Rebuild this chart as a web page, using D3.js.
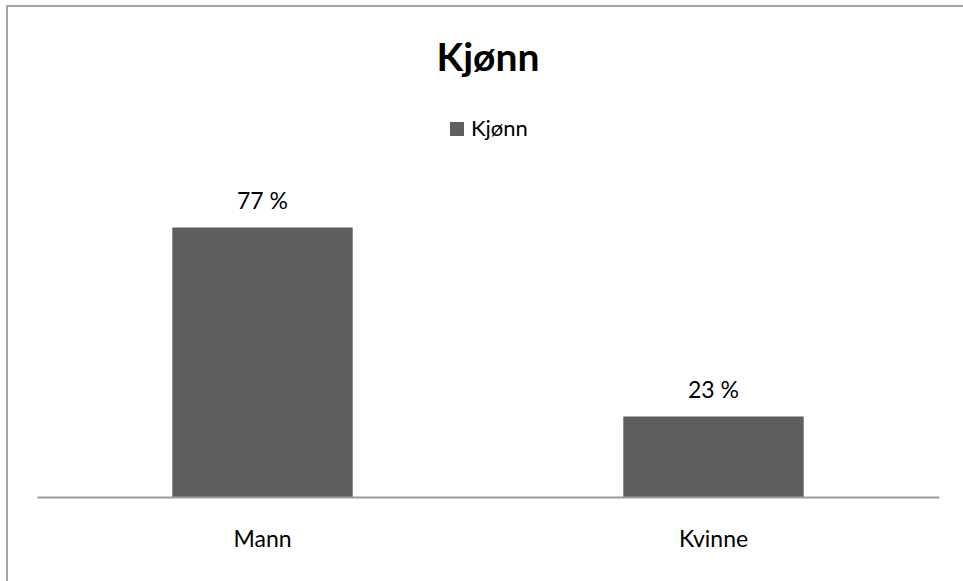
<!DOCTYPE html>
<html>
<head>
<meta charset="utf-8">
<script src="https://d3js.org/d3.v7.min.js"></script>
<style>
	body { margin: 0; background: #ffffff; }
	svg { display: block; }
</style>
</head>
<body>
<svg id="chart" width="963" height="581"></svg>
<script>
// Kjønn - share of respondents by gender

var categories = ["Mann", "Kvinne"];
var values = [77, 23];
var valueLabels = ["77 %", "23 %"];
var seriesName = "Kjønn";
var chartTitle = "Kjønn";

var barColor = "#5f5f5f";
var fontFamily = "Lato, 'Open Sans', sans-serif";

var svg = d3.select("#chart");
var width = +svg.attr("width");
var height = +svg.attr("height");

// plot area (axis line runs from left to right)
var plotLeft = 37;
var plotRight = 939;
var plotBottom = 497;
var plotTop = 147;

// outer frame of the chart, right and bottom edges fall outside the picture
svg.append("rect")
	.attr("x", 7)
	.attr("y", 6)
	.attr("width", width + 20)
	.attr("height", height + 20)
	.attr("fill", "none")
	.attr("stroke", "#a6a6a6")
	.attr("stroke-width", 2);

var x = d3.scaleBand()
	.domain(categories)
	.range([plotLeft, plotRight])
	.paddingInner(0.6)
	.paddingOuter(0.3);

var y = d3.scaleLinear()
	.domain([0, 100])
	.range([plotBottom, plotTop]);

// title
svg.append("text")
	.attr("x", 488)
	.attr("y", 71)
	.attr("text-anchor", "middle")
	.style("font-family", fontFamily)
	.style("font-weight", "bold")
	.style("font-size", "39px")
	.attr("fill", "#000")
	.text(chartTitle);

// legend
var legend = svg.append("g")
	.attr("transform", "translate(450, 122)");
legend.append("rect")
	.attr("width", 14)
	.attr("height", 14)
	.attr("fill", barColor);
legend.append("text")
	.attr("x", 21)
	.attr("y", 14)
	.style("font-family", fontFamily)
	.style("font-size", "22px")
	.attr("fill", "#000")
	.text(seriesName);

// bars
svg.append("g").selectAll("rect")
	.data(values)
	.enter()
	.append("rect")
	.attr("x", function(d, i) { return x(categories[i]); })
	.attr("y", function(d) { return y(d); })
	.attr("width", x.bandwidth())
	.attr("height", function(d) { return y(0) - y(d); })
	.attr("fill", barColor);

// value labels
svg.append("g").selectAll("text")
	.data(values)
	.enter()
	.append("text")
	.attr("x", function(d, i) { return x(categories[i]) + x.bandwidth() / 2; })
	.attr("y", function(d) { return y(d) - 19; })
	.attr("text-anchor", "middle")
	.style("font-family", fontFamily)
	.style("font-size", "23px")
	.attr("fill", "#000")
	.text(function(d, i) { return valueLabels[i]; });

// category axis
var xAxis = svg.append("g")
	.attr("transform", "translate(0," + plotBottom + ")")
	.call(d3.axisBottom(x).tickSize(0).tickPadding(50).tickSizeOuter(0));
xAxis.select(".domain")
	.attr("stroke", "#9a9a9a")
	.attr("stroke-width", 2);
xAxis.selectAll("text")
	.attr("dy", 0)
	.style("font-family", fontFamily)
	.style("font-size", "23px")
	.attr("fill", "#000");
</script>
</body>
</html>
